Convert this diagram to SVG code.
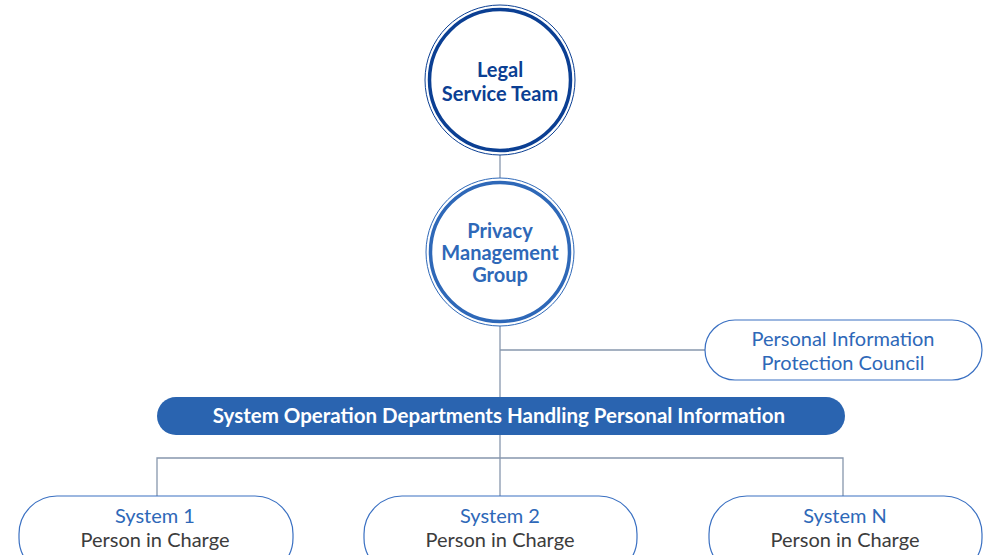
<svg xmlns="http://www.w3.org/2000/svg" width="985" height="555" viewBox="0 0 985 555">
<style>
.ln{stroke:#8797ad;stroke-width:1.3;fill:none}
.pill{fill:#fff;stroke:#3a70c2;stroke-width:1.2}
.t{font-family:Lato,"Noto Sans",sans-serif;text-anchor:middle}
.b{font-weight:bold}
.blue{fill:#2e68b8}
.gray{fill:#3c3c3c}
</style>
<rect width="985" height="555" fill="#fff"/>
<g id="connectors">
<line class="ln" x1="500" y1="155" x2="500" y2="180"/>
<line class="ln" x1="500" y1="325" x2="500" y2="397"/>
<line class="ln" x1="500" y1="350" x2="705" y2="350"/>
<line class="ln" x1="500" y1="435" x2="500" y2="496"/>
<polyline class="ln" points="157,496 157,458 843,458 843,496"/>
</g>
<g id="legal">
<circle cx="500" cy="80" r="75" fill="#fff" stroke="#0b3f93" stroke-width="1"/>
<circle cx="500" cy="80" r="70.5" fill="#fff" stroke="#0b3f93" stroke-width="3.5"/>
<text class="t b" x="500" y="77" font-size="20" fill="#0b3f93">Legal</text>
<text class="t b" x="500" y="101" font-size="20" fill="#0b3f93">Service Team</text>
</g>
<g id="privacy">
<circle cx="500" cy="252" r="74" fill="#fff" stroke="#2e68b8" stroke-width="1"/>
<circle cx="500" cy="252" r="69.5" fill="#fff" stroke="#2e68b8" stroke-width="3.5"/>
<text class="t b blue" x="500" y="238" font-size="20">Privacy</text>
<text class="t b blue" x="500" y="260" font-size="20">Management</text>
<text class="t b blue" x="500" y="282" font-size="20">Group</text>
</g>
<g id="council">
<rect class="pill" x="705" y="320" width="277" height="60" rx="30"/>
<text class="t blue" x="843" y="346" font-size="20">Personal Information</text>
<text class="t blue" x="843" y="370" font-size="20">Protection Council</text>
</g>
<g id="departments">
<rect x="157" y="397" width="688" height="38" rx="19" fill="#2a64b0"/>
<text class="t b" x="499" y="423" font-size="20.5" fill="#fff">System Operation Departments Handling Personal Information</text>
</g>
<g id="system1">
<rect class="pill" x="19" y="496" width="274" height="80" rx="38"/>
<text class="t blue" x="155" y="523" font-size="20">System 1</text>
<text class="t gray" x="155" y="547" font-size="20">Person in Charge</text>
</g>
<g id="system2">
<rect class="pill" x="364" y="496" width="273" height="80" rx="38"/>
<text class="t blue" x="500" y="523" font-size="20">System 2</text>
<text class="t gray" x="500" y="547" font-size="20">Person in Charge</text>
</g>
<g id="systemN">
<rect class="pill" x="709" y="496" width="273" height="80" rx="38"/>
<text class="t blue" x="845" y="523" font-size="20">System N</text>
<text class="t gray" x="845" y="547" font-size="20">Person in Charge</text>
</g>
</svg>
